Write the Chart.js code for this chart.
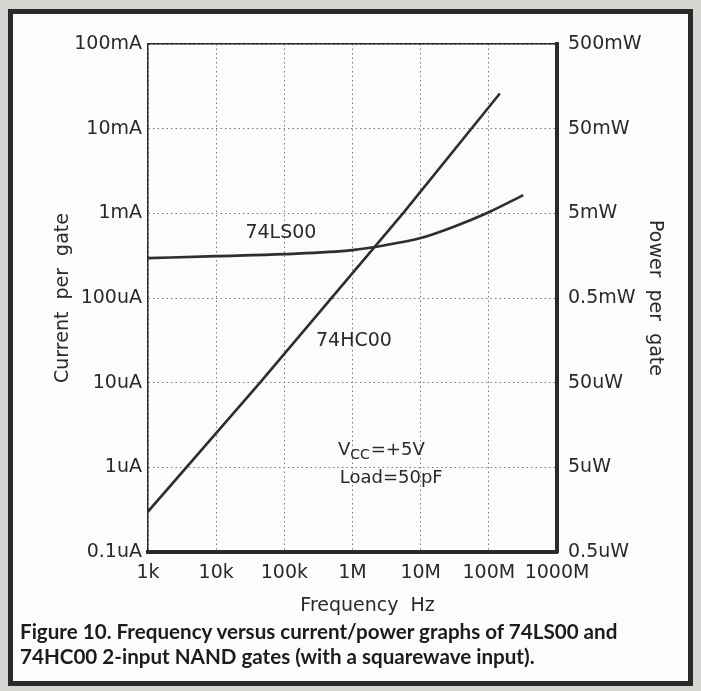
<!DOCTYPE html>
<html>
<head>
<meta charset="utf-8">
<script src="https://cdn.jsdelivr.net/npm/chart.js@4.4.1/dist/chart.umd.min.js"></script>
<style>
  html, body { margin: 0; padding: 0; background: #d5d5d2; }
  #page { position: relative; width: 701px; height: 691px; overflow: hidden; }
  #frame { position: absolute; left: 8px; top: 9px; width: 675px; height: 667px;
           border: 5px solid #2b2b2b; background: #fcfcfa; }
  #chart { position: absolute; left: 0; top: 0; }
  #caption { position: absolute; left: 20px; top: 619px; font: bold 20.6px Lato, sans-serif;
             line-height: 25px; color: #1c1c1c; white-space: nowrap; }
</style>
</head>
<body>
<div id="page">
  <div id="frame"></div>
  <canvas id="chart" width="701" height="691"></canvas>
  <div id="caption">Figure 10. Frequency versus current/power graphs of 74LS00 and<br>74HC00 2-input NAND gates (with a squarewave input).</div>
</div>
<script>
// axis ticks (current in uA, power in uW)
const freqTicks = [1e3, 1e4, 1e5, 1e6, 1e7, 1e8, 1e9];
const freqLabels = ["1k", "10k", "100k", "1M", "10M", "100M", "1000M"];
const currentTicks = [0.1, 1, 10, 100, 1000, 10000, 100000];
const currentLabels = ["0.1uA", "1uA", "10uA", "100uA", "1mA", "10mA", "100mA"];
const powerTicks = [0.5, 5, 50, 500, 5000, 50000, 500000];
const powerLabels = ["0.5uW", "5uW", "50uW", "0.5mW", "5mW", "50mW", "500mW"];

// 74HC00 curve
const hcFreq = [1e3, 44e3, 5.5e6, 145e6];
const hcCurrent = [0.3, 10, 1000, 26000];

// 74LS00 curve
const lsFreq = [1e3, 1e4, 1e5, 1e6, 3e6, 1e7, 3e7, 1e8, 3.2e8];
const lsCurrent = [296, 312, 330, 368, 420, 510, 690, 1030, 1640];

const ink = "#2a2a2a";
const tickFont = { family: "DejaVu Sans", size: 19 };

// text written on the plot, placed in data coordinates
const notes = [
    { text: "74LS00", f: 89e3, i: 580 },
    { text: "74HC00", f: 1.05e6, i: 31 }
];

const notesPlugin = {
    id: "notes",
    afterDatasetsDraw(chart) {
        const ctx = chart.ctx;
        const x = chart.scales.x;
        const y = chart.scales.y;
        ctx.save();
        ctx.fillStyle = ink;
        ctx.textBaseline = "middle";
        ctx.textAlign = "center";
        ctx.font = "19px 'DejaVu Sans'";
        notes.forEach(n => {
            ctx.fillText(n.text, x.getPixelForValue(n.f), y.getPixelForValue(n.i));
        });

        // Vcc / load note
        ctx.textAlign = "left";
        let px = x.getPixelForValue(611e3);
        let py = y.getPixelForValue(1.6);
        ctx.font = "18px 'DejaVu Sans'";
        ctx.fillText("V", px, py);
        px += ctx.measureText("V").width;
        ctx.font = "14px 'DejaVu Sans'";
        ctx.fillText("CC", px, py + 5);
        px += ctx.measureText("CC").width + 1;
        ctx.font = "18px 'DejaVu Sans'";
        ctx.fillText("=+5V", px, py);
        ctx.fillText("Load=50pF", x.getPixelForValue(650e3), y.getPixelForValue(0.75));
        ctx.restore();
    }
};

const logTicks = (values) => (scale) => {
    scale.ticks = values.map(v => ({ value: v }));
};

const ctx = document.getElementById("chart").getContext("2d");

const chart = new Chart(ctx, {
    type: "line",
    data: {
        datasets: [
            {
                label: "74LS00",
                data: lsFreq.map((f, i) => ({ x: f, y: lsCurrent[i] })),
                borderColor: "#2e2e2e",
                borderWidth: 2.6,
                pointRadius: 0,
                cubicInterpolationMode: "monotone"
            },
            {
                label: "74HC00",
                data: hcFreq.map((f, i) => ({ x: f, y: hcCurrent[i] })),
                borderColor: "#2e2e2e",
                borderWidth: 2.6,
                pointRadius: 0,
                tension: 0
            }
        ]
    },
    options: {
        responsive: false,
        animation: false,
        devicePixelRatio: 1,
        layout: { padding: { top: 44, left: 0, right: 0, bottom: 0 } },
        plugins: {
            legend: { display: false },
            tooltip: { enabled: false }
        },
        scales: {
            x: {
                type: "logarithmic",
                position: "bottom",
                min: 1e3,
                max: 1e9,
                afterBuildTicks: logTicks(freqTicks),
                afterFit: s => { s.height = 139; },
                ticks: {
                    callback: (v, i) => freqLabels[i],
                    autoSkip: false,
                    maxRotation: 0,
                    padding: 10,
                    color: ink,
                    font: tickFont
                },
                grid: { color: "#7a7a7a", lineWidth: 1, drawTicks: false },
                border: { color: ink, width: 4, dash: [1.5, 3] },
                title: {
                    display: true,
                    text: "     Frequency  Hz",
                    color: ink,
                    font: tickFont,
                    padding: { bottom: 74 }
                }
            },
            xt: {
                type: "linear",
                position: "top",
                min: 0,
                max: 1,
                afterFit: s => { s.height = 0; },
                ticks: { display: false },
                grid: { drawOnChartArea: false, drawTicks: false },
                border: { color: ink, width: 1.5 }
            },
            y: {
                type: "logarithmic",
                position: "left",
                min: 0.1,
                max: 100000,
                afterBuildTicks: logTicks(currentTicks),
                afterFit: s => { s.width = 148; },
                ticks: {
                    callback: (v, i) => currentLabels[i],
                    autoSkip: false,
                    padding: 6,
                    color: ink,
                    font: tickFont
                },
                grid: { color: "#7a7a7a", lineWidth: 1, drawTicks: false },
                border: { color: ink, width: 1.5, dash: [1.5, 3] },
                title: {
                    display: true,
                    text: "Current  per  gate",
                    color: ink,
                    font: tickFont,
                    padding: { top: 52 }
                }
            },
            y2: {
                type: "logarithmic",
                position: "right",
                min: 0.5,
                max: 500000,
                afterBuildTicks: logTicks(powerTicks),
                afterFit: s => { s.width = 144; },
                ticks: {
                    callback: (v, i) => powerLabels[i],
                    autoSkip: false,
                    padding: 11,
                    color: ink,
                    font: tickFont
                },
                grid: { drawOnChartArea: false, drawTicks: false },
                border: { color: ink, width: 4 },
                title: {
                    display: true,
                    text: "Power  per  gate",
                    color: ink,
                    font: tickFont,
                    padding: { top: 35 }
                }
            }
        }
    },
    plugins: [notesPlugin]
});
</script>
</body>
</html>
